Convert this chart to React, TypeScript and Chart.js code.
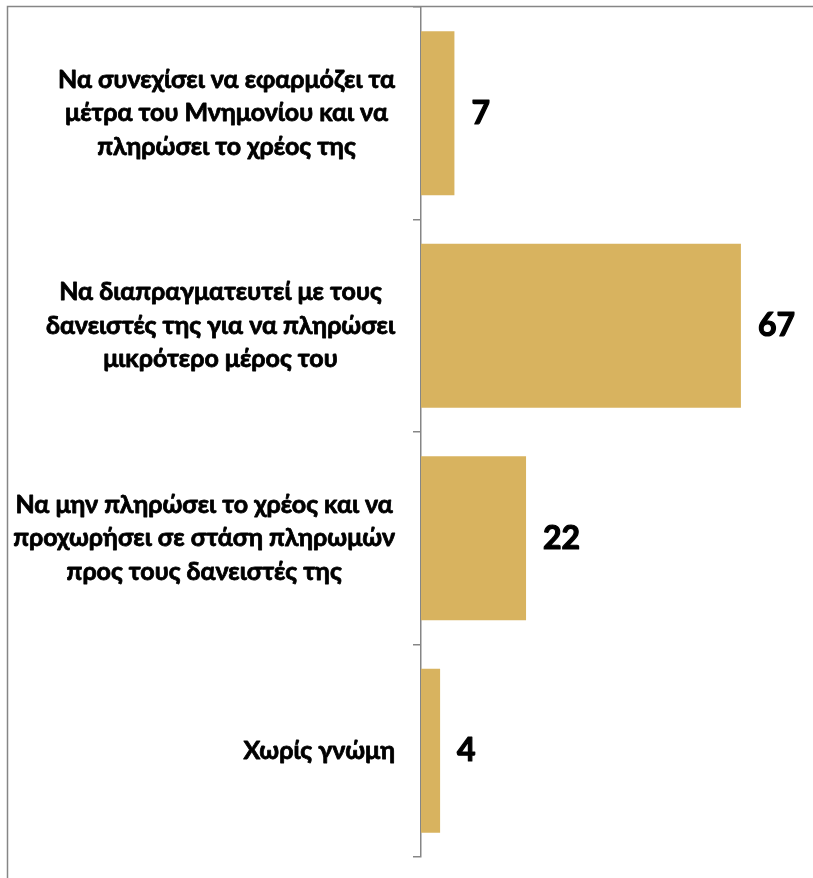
import React, { useEffect, useRef } from "react";
import { Chart, registerables } from "chart.js";

Chart.register(...registerables);

const categories: string[][] = [
  ["Να συνεχίσει να εφαρμόζει τα", "μέτρα του Μνημονίου και να", "πληρώσει το χρέος της"],
  ["Να διαπραγματευτεί με τους", "δανειστές της για να πληρώσει", "μικρότερο μέρος του"],
  ["Να μην πληρώσει το χρέος και να", "προχωρήσει σε στάση πληρωμών", "προς τους δανειστές της"],
  ["Χωρίς γνώμη"],
];
const values: number[] = [7, 67, 22, 4];

const BAR_COLOR = "#D8B35F";
const GRAY = "#868686";
const FONT = "Lato, 'Open Sans', sans-serif";

export default function App() {
  const ref = useRef<HTMLCanvasElement | null>(null);

  useEffect(() => {
    document.body.style.margin = "0";
    const canvas = ref.current;
    if (!canvas) return;

    const framePlugin = {
      id: "frame",
      beforeDraw(chart: any) {
        const ctx = chart.ctx;
        ctx.save();
        ctx.fillStyle = "#ffffff";
        ctx.fillRect(0, 0, chart.width, chart.height);
        ctx.strokeStyle = GRAY;
        ctx.lineWidth = 1.5;
        ctx.beginPath();
        ctx.moveTo(7.5, chart.height);
        ctx.lineTo(7.5, 6.5);
        ctx.lineTo(chart.width, 6.5);
        ctx.stroke();
        ctx.restore();
      },
    };

    const labelPlugin = {
      id: "labels",
      afterDraw(chart: any) {
        const ctx = chart.ctx;
        const yScale = chart.scales.y;
        ctx.save();
        ctx.fillStyle = "#000000";
        ctx.strokeStyle = "#000000";
        ctx.lineJoin = "round";
        ctx.font = `bold 25px ${FONT}`;
        ctx.textBaseline = "middle";
        ctx.textAlign = "center";
        ctx.lineWidth = 0.8;
        const lineH = 33.5;
        const rightEdge = 395;
        categories.forEach((lines, i) => {
          const y = yScale.getPixelForTick(i);
          const maxW = Math.max(...lines.map((l) => ctx.measureText(l).width));
          const cx = rightEdge - maxW / 2;
          const startY = y - ((lines.length - 1) * lineH) / 2;
          lines.forEach((l, j) => {
            ctx.fillText(l, cx, startY + j * lineH);
            ctx.strokeText(l, cx, startY + j * lineH);
          });
        });
        // value labels
        ctx.font = `bold 32px ${FONT}`;
        ctx.textAlign = "left";
        ctx.lineWidth = 1.2;
        const meta = chart.getDatasetMeta(0);
        meta.data.forEach((bar: any, i: number) => {
          ctx.fillText(String(values[i]), bar.x + 17, bar.y);
          ctx.strokeText(String(values[i]), bar.x + 17, bar.y);
        });
        ctx.restore();
      },
    };

    const chart = new Chart(canvas, {
      type: "bar",
      data: {
        labels: categories.map((c) => c.join(" ")),
        datasets: [
          {
            data: values,
            backgroundColor: BAR_COLOR,
            borderWidth: 0,
            barPercentage: 0.772,
            categoryPercentage: 1,
          },
        ],
      },
      options: {
        indexAxis: "y",
        animation: false,
        responsive: false,
        maintainAspectRatio: false,
        layout: { padding: { left: 0, top: 7, bottom: 21, right: 10 } },
        plugins: {
          legend: { display: false },
          tooltip: { enabled: false },
        },
        scales: {
          x: {
            display: false,
            min: 0,
            max: 80,
          },
          y: {
            afterFit: (s: any) => {
              s.width = 421;
            },
            ticks: { display: false },
            grid: {
              display: true,
              drawOnChartArea: false,
              drawTicks: true,
              tickLength: 8,
              offset: true,
              color: GRAY,
              lineWidth: 1.5,
            },
            border: { display: true, color: GRAY, width: 1.5 },
          },
        },
      },
      plugins: [framePlugin, labelPlugin],
    });
    return () => chart.destroy();
  }, []);

  return <canvas ref={ref} width={813} height={878} style={{ display: "block" }} />;
}
